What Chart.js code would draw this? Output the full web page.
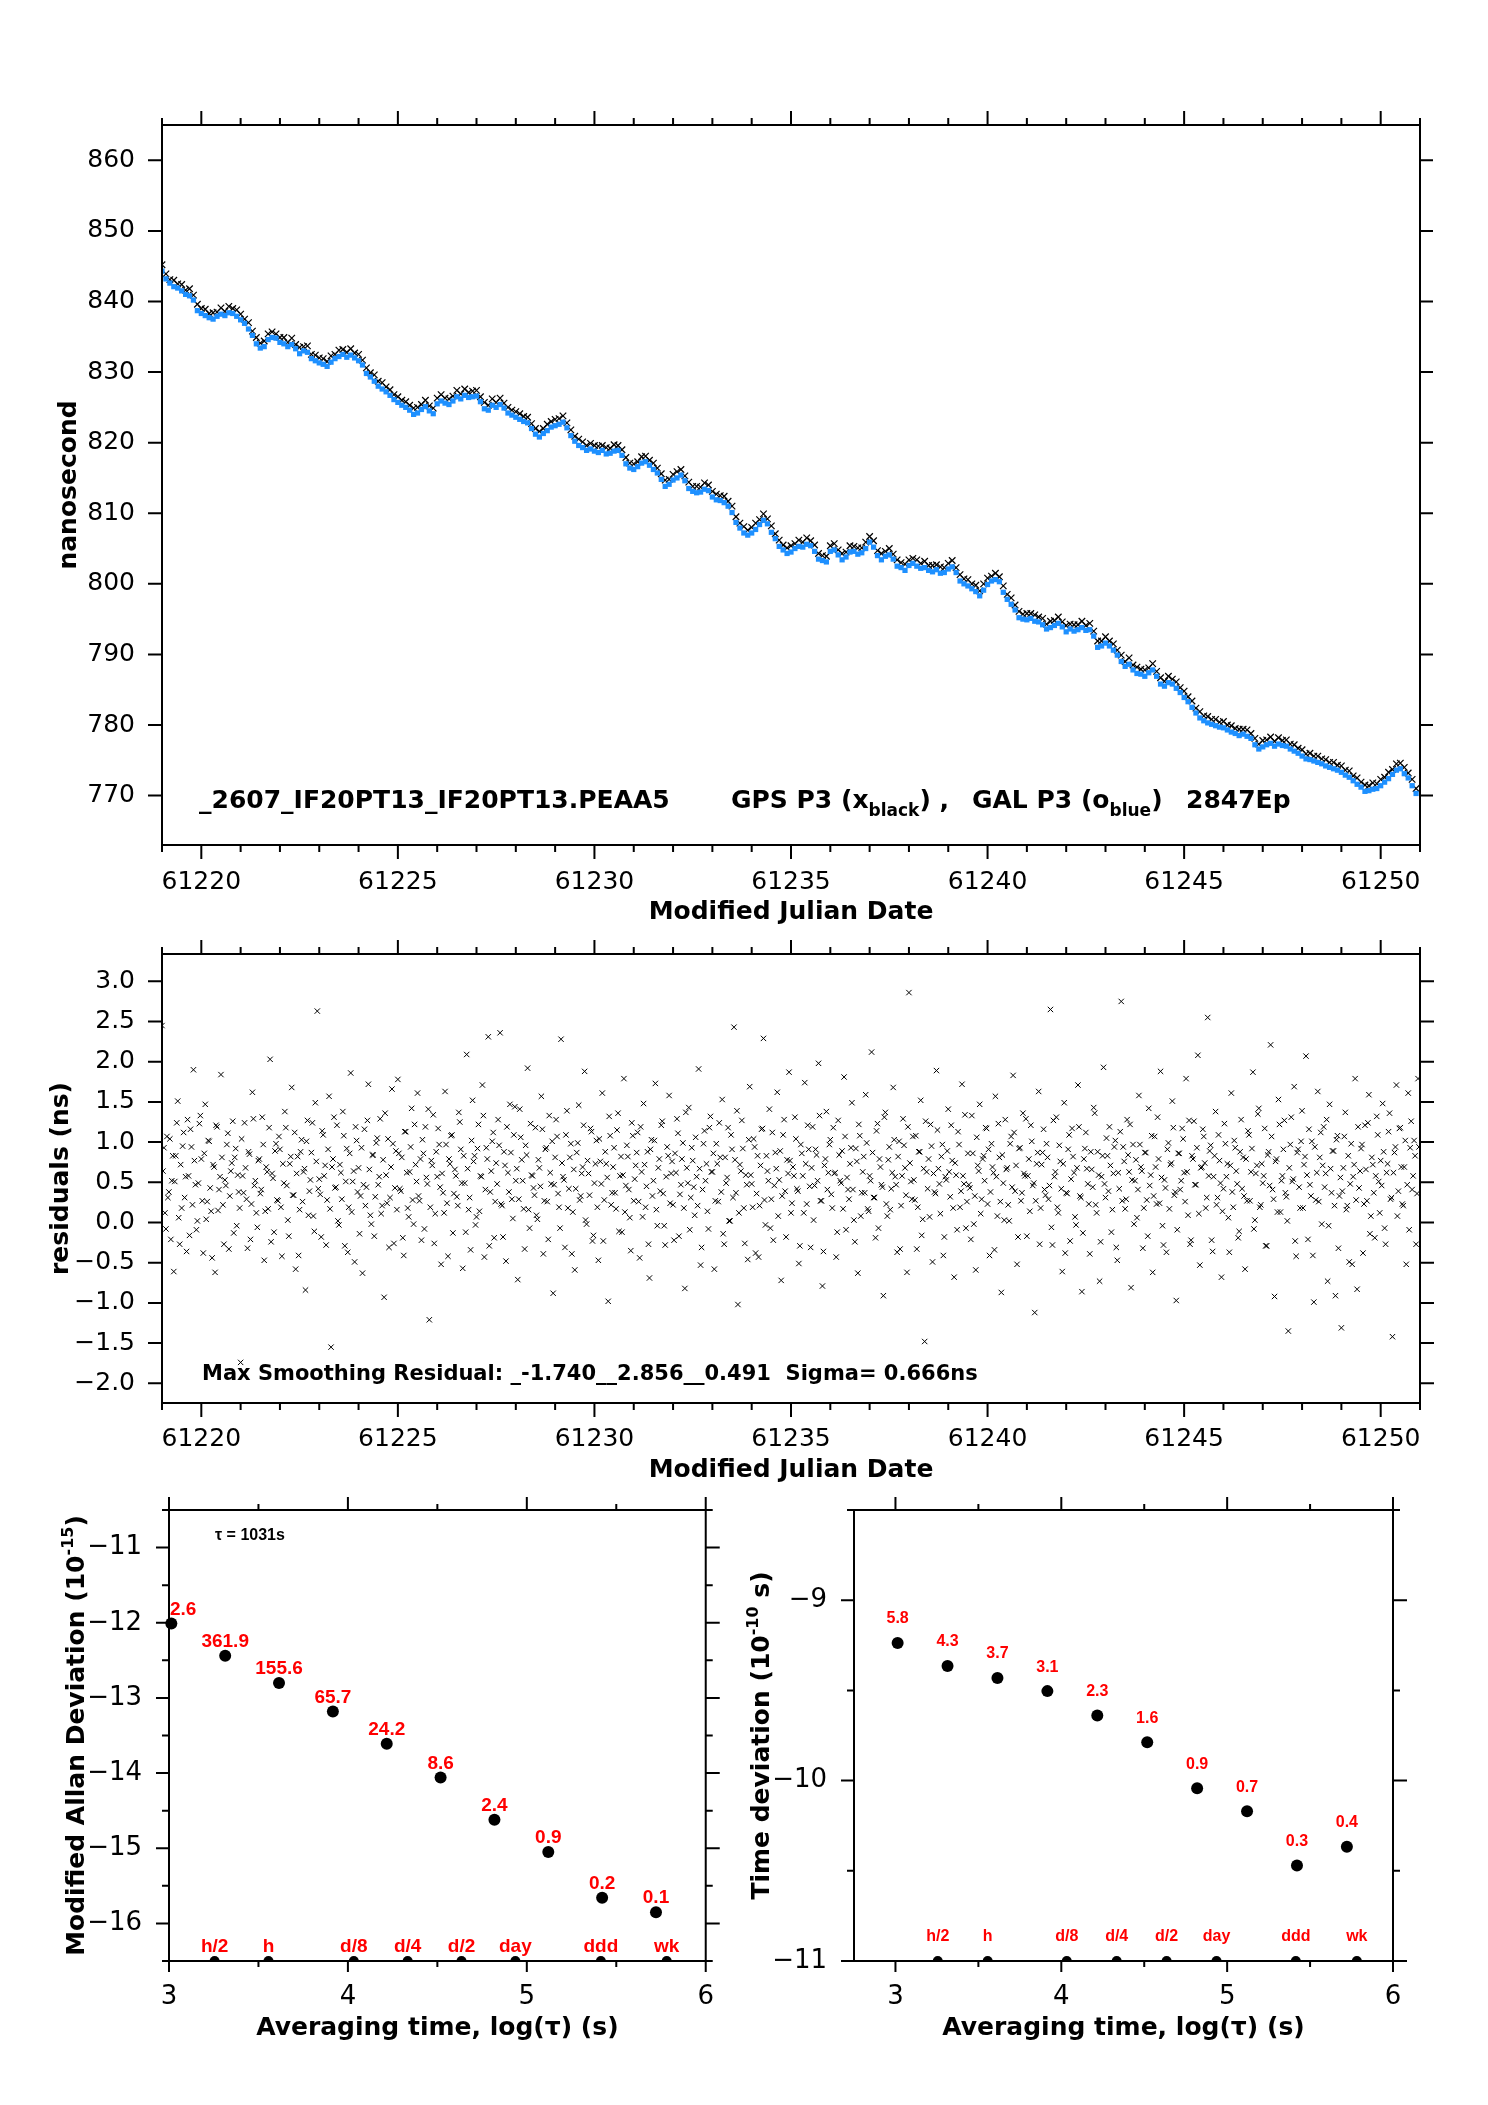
<!DOCTYPE html>
<html>
<head>
<meta charset="utf-8">
<script src="https://cdn.jsdelivr.net/npm/chart.js@4.4.1/dist/chart.umd.min.js"></script>
<style>
    html, body { margin: 0; padding: 0; background: #fff; }
    body { width: 1488px; height: 2105px; position: relative; overflow: hidden; }
    .panel { position: absolute; }
    .panel canvas { display: block; }
</style>
</head>
<body>
<div class="panel" style="left:0;top:0"><canvas id="phase-chart" width="1488" height="945"></canvas></div>
<div class="panel" style="left:0;top:900px"><canvas id="residual-chart" width="1488" height="603"></canvas></div>
<div class="panel" style="left:0;top:1450px"><canvas id="mdev-chart" width="735" height="611"></canvas></div>
<div class="panel" style="left:735px;top:1450px"><canvas id="tdev-chart" width="753" height="611"></canvas></div>
<script>
// epochs are evenly spaced, first one at the left edge of the plot
const EPOCH_START = 61219.0;
const PHASE_STEP = 0.1;
const RESID_STEP = 0.05;

// GAL P3 (blue), nanoseconds
const galPhase = [
    844.3, 843.2, 842.6, 842.1, 841.9, 841.5, 841.0, 840.8, 840.2, 838.7,
    838.3, 838.0, 837.7, 837.5, 837.9, 838.2, 838.0, 838.4, 838.3, 837.9,
    837.4, 836.9, 836.1, 835.2, 834.0, 833.4, 833.6, 834.6, 834.9, 834.8,
    834.2, 834.0, 833.6, 833.9, 833.3, 832.6, 833.0, 832.8, 831.9, 831.6,
    831.3, 831.1, 830.8, 831.4, 831.9, 832.2, 832.5, 832.1, 832.4, 832.0,
    831.6, 831.0, 829.8, 829.3, 828.7, 828.0, 827.6, 827.2, 826.7, 826.1,
    825.7, 825.3, 825.0, 824.6, 824.0, 824.2, 824.7, 825.1, 824.5, 824.1,
    825.5, 825.9, 825.6, 825.4, 825.9, 826.5, 826.2, 826.7, 826.4, 826.5,
    826.6, 825.8, 824.8, 824.6, 825.3, 825.0, 825.4, 824.9, 824.2, 823.9,
    823.6, 823.3, 823.0, 822.8, 822.0, 821.2, 820.8, 821.3, 821.7, 822.2,
    822.4, 822.6, 822.9, 822.1, 821.0, 820.2, 819.6, 819.3, 818.9, 819.1,
    818.8, 818.6, 818.9, 818.4, 818.5, 818.8, 818.9, 818.2, 817.0, 816.4,
    816.2, 816.6, 817.1, 817.3, 816.8, 816.2, 815.7, 814.8, 813.8, 814.1,
    814.7, 815.0, 815.4, 814.6, 813.5, 813.1, 812.9, 813.0, 813.4, 813.2,
    812.3, 811.9, 811.8, 811.5, 811.0, 810.1, 808.7, 807.9, 807.2, 806.9,
    807.2, 807.7, 808.4, 809.0, 808.5, 807.3, 806.4, 805.3, 804.8, 804.3,
    804.5, 805.0, 805.3, 805.2, 805.6, 805.4, 804.6, 803.5, 803.3, 803.1,
    804.6, 804.8, 804.1, 803.4, 803.8, 804.5, 804.6, 804.2, 804.4, 805.0,
    805.9, 805.2, 804.0, 803.4, 803.9, 804.1, 803.5, 802.5, 802.3, 801.9,
    802.6, 802.9, 802.5, 802.2, 802.3, 801.9, 801.7, 802.0, 801.5, 801.6,
    802.1, 802.4, 801.6, 800.4, 800.0, 799.7, 799.3, 798.9, 798.3, 799.1,
    799.9, 800.4, 800.6, 800.3, 798.8, 797.8, 797.1, 796.3, 795.2, 795.0,
    794.9, 795.1, 794.7, 794.6, 794.2, 793.6, 793.8, 794.1, 794.4, 793.9,
    793.2, 793.6, 793.3, 793.5, 793.8, 793.4, 793.5, 792.6, 791.0, 791.2,
    791.6, 791.2, 790.6, 789.9, 789.0, 788.3, 788.6, 787.8, 787.3, 787.2,
    786.9, 787.4, 787.8, 786.9, 785.8, 785.5, 786.0, 785.8, 785.2, 784.6,
    783.9, 783.3, 782.5, 781.7, 781.0, 780.6, 780.3, 780.1, 779.9, 779.7,
    779.6, 779.3, 779.0, 778.8, 778.5, 778.7, 778.4, 778.1, 777.2, 776.6,
    776.9, 777.2, 777.4, 777.0, 777.3, 777.1, 777.0, 776.6, 776.3, 776.0,
    775.6, 775.2, 775.1, 774.9, 774.7, 774.5, 774.2, 774.0, 773.8, 773.6,
    773.3, 772.9, 772.6, 772.1, 771.6, 771.2, 770.6, 770.7, 770.9, 771.0,
    771.4, 771.9, 772.4, 773.0, 773.6, 773.8, 773.1, 772.5, 771.4, 770.3
];

// GPS P3 (black crosses), nanoseconds
const gpsPhase = [
    845.2, 843.9, 843.1, 843.0, 842.5, 842.4, 841.6, 841.8, 840.9, 839.6,
    839.0, 838.9, 838.3, 838.4, 838.5, 839.1, 838.6, 839.3, 839.0, 838.8,
    838.2, 837.5, 837.0, 835.8, 834.9, 834.1, 834.4, 835.4, 835.7, 835.4,
    834.9, 834.9, 834.2, 834.8, 833.9, 833.5, 833.6, 833.7, 832.5, 832.4,
    832.0, 831.9, 831.5, 832.3, 832.5, 833.1, 833.2, 832.8, 833.3, 832.7,
    832.5, 831.7, 830.6, 829.9, 829.6, 828.7, 828.5, 827.9, 827.5, 826.8,
    826.5, 826.0, 825.8, 825.3, 824.9, 825.0, 825.4, 826.0, 825.2, 824.9,
    826.3, 826.8, 826.3, 826.2, 826.6, 827.4, 826.9, 827.6, 827.1, 827.3,
    827.4, 826.5, 825.7, 825.3, 826.2, 825.7, 826.3, 825.6, 825.0, 824.6,
    824.4, 824.1, 823.7, 823.6, 822.7, 822.0, 821.6, 822.0, 822.6, 823.0,
    823.3, 823.4, 823.8, 822.8, 821.8, 820.9, 820.5, 820.1, 819.6, 819.9,
    819.6, 819.5, 819.6, 819.3, 819.2, 819.7, 819.6, 819.0, 817.9, 817.1,
    817.0, 817.3, 818.0, 818.1, 817.5, 817.1, 816.4, 815.6, 814.7, 814.8,
    815.5, 815.9, 816.2, 815.3, 814.4, 813.8, 813.8, 813.7, 814.3, 814.0,
    813.1, 812.7, 812.5, 812.4, 811.7, 811.0, 809.5, 808.6, 808.1, 807.6,
    808.0, 808.6, 809.1, 809.9, 809.2, 808.2, 807.1, 806.2, 805.5, 805.1,
    805.4, 805.7, 806.2, 805.9, 806.5, 806.1, 805.5, 804.3, 804.0, 803.9,
    805.4, 805.7, 804.8, 804.3, 804.5, 805.4, 805.3, 805.1, 805.1, 805.9,
    806.7, 806.1, 804.7, 804.3, 804.6, 805.0, 804.2, 803.4, 803.0, 802.8,
    803.4, 803.6, 803.4, 802.9, 803.2, 802.6, 802.6, 802.7, 802.4, 802.3,
    802.9, 803.3, 802.3, 801.3, 800.7, 800.6, 800.0, 799.8, 799.0, 800.0,
    800.8, 801.1, 801.5, 801.0, 799.7, 798.5, 798.0, 797.0, 796.1, 795.7,
    795.8, 795.8, 795.6, 795.3, 795.1, 794.3, 794.7, 794.8, 795.3, 794.6,
    794.1, 794.3, 794.2, 794.2, 794.7, 794.1, 794.4, 793.3, 791.9, 791.9,
    792.5, 791.9, 791.5, 790.6, 789.9, 789.0, 789.5, 788.5, 788.2, 787.9,
    787.8, 788.1, 788.7, 787.6, 786.7, 786.2, 786.9, 786.5, 786.1, 785.3,
    784.8, 784.0, 783.4, 782.4, 781.9, 781.3, 781.2, 780.8, 780.8, 780.4,
    780.5, 780.0, 779.9, 779.5, 779.4, 779.4, 779.3, 778.8, 778.1, 777.3,
    777.8, 777.9, 778.3, 777.7, 778.2, 777.8, 777.9, 777.3, 777.2, 776.7,
    776.5, 775.9, 776.0, 775.6, 775.6, 775.2, 775.1, 774.7, 774.7, 774.3,
    774.2, 773.6, 773.5, 772.8, 772.5, 771.9, 771.5, 771.4, 771.8, 771.7,
    772.3, 772.6, 773.3, 773.7, 774.5, 774.6, 774.0, 773.2, 772.3, 771.0
];

// smoothing residuals, ns, on the whole-step epochs
const residuals = [
    2.45, 0.93, -0.08, 0.31, 1.04, 0.52, -0.61, 0.83, 1.51, -0.27,
    0.18, 1.12, 0.57, 1.28, -0.16, 0.94, 1.90, 0.47, 0.02, 1.23,
    0.79, -0.38, 1.47, 0.26, 1.01, 0.14, 0.72, -0.62, 1.19, 0.41,
    1.84, 0.22, 0.53, 0.97, -0.33, 0.64, 1.26, 0.81, -0.04, 0.38,
    -1.74, 0.58, 1.24, 0.29, 0.88, -0.21, 1.62, 0.46, 0.12, 0.77,
    0.36, 1.31, -0.47, 0.69, 0.17, 2.03, 0.61, -0.12, 0.98, 0.27,
    0.91, -0.42, 0.49, 1.18, 0.03, 0.73, 1.68, 0.34, -0.58, 0.82,
    0.16, 1.03, 0.63, -0.84, 1.27, 0.39, 0.87, 0.08, 1.49, 2.63,
    0.54, -0.18, 1.09, 0.71, 0.28, 1.57, -1.55, 0.79, 0.43, 1.21,
    -0.03, 0.62, 1.38, -0.29, 0.92, 0.19, 1.86, 0.51, -0.49, 1.02,
    0.68, 0.33, -0.63, 1.16, 0.44, 1.72, 0.09, 0.84, -0.17, 0.99,
    0.47, 1.29, 0.21, -0.93, 0.59, 1.04, 0.31, 1.66, -0.26, 0.89,
    1.78, 0.42, 0.81, -0.41, 1.13, 0.18, 0.63, 1.42, -0.02, 0.72,
    1.61, 0.27, -0.22, 0.86, 1.19, 0.48, -1.21, 0.77, 1.34, 0.11,
    0.57, 0.97, -0.52, 0.37, 1.63, 0.24, 0.79, 1.08, -0.13, 0.66,
    0.32, 1.37, 0.91, -0.57, 0.49, 2.09, 0.16, -0.34, 1.52, 0.83,
    0.07, 1.22, 0.58, 1.71, -0.43, 0.93, 2.31, 0.38, 1.01, -0.19,
    0.74, 1.28, 2.36, 0.21, 0.88, -0.48, 0.62, 1.47, 0.29, 1.09,
    0.52, -0.71, 1.41, 0.78, 0.17, 0.96, 1.92, -0.07, 0.59, 0.43,
    1.18, 0.04, 0.68, 1.57, -0.39, 0.91, 0.26, 1.33, 0.48, -0.88,
    0.81, 1.07, 0.19, 2.28, 0.57, -0.31, 1.39, 0.42, 0.98, 0.13,
    -0.59, 0.87, 1.46, 0.33, 0.69, 1.88, -0.02, 0.61, 1.17, -0.23,
    0.49, 1.02, -0.47, 0.76, 1.61, 0.28, 0.73, -0.98, 1.08, 0.37,
    0.93, 0.17, 1.36, 0.58, -0.12, 1.79, 0.46, 0.82, 0.06, 1.24,
    0.27, 0.71, 1.12, -0.44, 0.63, 1.48, 0.19, 0.88, -0.69, 1.03,
    0.52, 1.73, -0.04, 0.79, 1.21, 0.36, -0.28, 0.94, 1.58, 0.61,
    0.22, 0.86, 1.29, -0.17, 0.47, 0.99, -0.82, 0.68, 1.43, 0.31,
    0.77, 0.09, 0.57, 1.91, -0.53, 0.41, 1.14, 0.73, -0.08, 1.32,
    0.63, -0.58, 0.98, 0.26, 0.81, 1.53, -0.27, 0.49, 1.18, 0.02,
    0.91, 2.43, 0.37, -1.02, 0.72, 1.27, 0.18, 0.59, -0.46, 1.69,
    0.48, 1.04, -0.38, 0.83, 0.21, 1.16, 2.29, -0.03, 0.64, 1.41,
    0.29, -0.22, 0.87, 1.62, 0.53, -0.72, 1.09, 0.39, 0.78, 1.87,
    0.12, 0.69, 1.31, 0.42, -0.51, 0.97, 0.58, 1.74, 0.23, 0.91,
    -0.31, 1.19, 0.46, 0.84, 1.98, 0.27, -0.79, 0.71, 1.38, 0.62,
    1.03, 0.18, 0.61, -0.43, 1.27, 0.52, 0.89, 1.81, -0.09, 0.41,
    0.73, 1.49, 0.03, 0.92, -0.63, 1.08, 0.37, 0.82, 1.59, 0.17,
    0.58, 2.12, 0.31, -0.19, 1.23, 0.79, 0.47, -0.91, 1.37, 0.08,
    0.94, 0.42, 1.68, 0.57, -0.37, 1.01, 0.21, 1.29, 0.68, -0.62,
    2.86, 0.51, 1.07, 0.28, -0.33, 0.88, 1.52, 0.04, -1.48, 0.63,
    0.79, 1.22, -0.49, 0.38, 1.89, 0.67, 0.11, 0.97, -0.18, 0.53,
    1.41, 0.32, 0.77, -0.68, 0.59, 1.13, 0.19, 1.72, 0.48, -0.07,
    0.86, 0.43, 1.33, -0.02, -0.59, 0.71, 1.47, 0.29, 0.83, 1.18,
    0.23, -0.41, 0.98, 0.62, 1.57, 0.08, 0.81, -0.87, 0.49, 1.28,
    0.68, 0.02, 1.07, 1.83, 0.39, -0.52, 0.92, 0.27, 1.36, 0.58,
    -0.17, 0.79, 1.21, 0.46, -1.12, 0.73, 1.63, 0.18, 0.87, 0.41,
    0.98, 0.29, 2.65, -0.28, 0.57, 1.31, 0.12, 0.76, -0.61, 1.49,
    0.37, 0.91, -0.23, 1.17, 0.62, -0.03, 1.71, 0.33, -0.86, 0.79,
    1.12, 0.48, -0.39, 0.66, 1.43, 0.22, 0.88, -0.73, 0.57, 1.93,
    0.31, 0.83, 1.19, -0.12, 0.61, 1.02, -0.47, 0.42, 2.75, 0.94,
    0.17, 1.28, 0.63, -0.81, 0.97, 0.52, 0.06, 1.58, 0.69, -0.32,
    0.87, 0.28, 1.42, 0.59, -0.62, 1.07, 0.23, 0.79, 1.88, -0.04,
    0.53, -0.37, 0.99, 0.72, 1.51, 0.34, -0.97, 0.86, 0.41, 1.17,
    0.62, 1.79, 0.09, -0.27, 0.83, 1.26, 0.47, 2.08, -0.53, 0.69,
    1.07, 0.18, 2.55, 0.89, -0.22, 0.57, 1.38, 0.31, 0.77, -0.68,
    0.42, 0.98, 0.73, -0.37, 1.61, 0.19, 0.93, 0.48, -0.11, 1.28,
    0.81, -0.58, 0.27, 1.09, 0.63, 1.87, 0.03, 0.71, 1.42, 0.22,
    0.49, 1.17, -0.29, 0.88, 2.21, 0.41, -0.92, 0.79, 1.53, 0.13,
    0.58, 1.27, 0.32, -1.35, 0.97, 0.51, 1.69, -0.42, 0.91, 0.18,
    1.39, 0.72, 2.07, -0.21, 0.47, 1.01, -0.99, 0.28, 1.63, 0.81,
    -0.02, 1.19, 0.61, -0.73, 1.47, 0.37, 0.89, -0.91, 1.08, 0.33,
    -1.31, 0.68, 1.37, 0.21, -0.49, 0.98, 0.57, 1.79, -0.83, 0.43,
    0.92, -0.38, 1.21, 0.27, 1.59, 0.08, 0.72, -0.19, 1.32, 0.51,
    0.77, 1.48, -0.07, 0.62, 1.13, 0.29, -1.42, 0.87, 1.71, 0.39,
    1.18, 0.23, 0.69, -0.52, 1.61, 0.93, 0.41, 1.02, -0.27, 1.79
];

// residuals on the half-step epochs in between
const residualsMid = [
    0.64, 0.12, 1.07, 0.38, -0.21, 0.83, 0.51, 1.24, 0.06, 0.72,
    0.95, 0.31, -0.36, 0.58, 1.16, 0.22, 0.77, -0.09, 0.49, 1.33,
    0.27, 0.86, 0.04, 1.02, 0.43, -0.44, 0.69, 1.21, 0.15, 0.57,
    0.81, -0.27, 0.46, 1.11, 0.33, 0.74, -0.13, 0.92, 0.59, 0.18,
    1.04, 0.37, 0.68, -0.32, 0.85, 0.23, 1.29, 0.52, -0.06, 0.79,
    0.41, 0.97, 0.14, 0.63, 1.18, -0.24, 0.55, 0.89, 0.28, 1.07,
    0.19, 0.73, 1.38, 0.46, -0.17, 0.82, 0.34, 1.12, 0.61, -0.41,
    0.88, 0.26, 0.67, 1.01, 0.09, 0.53, 1.24, -0.11, 0.76, 0.42,
    0.35, 1.14, 0.58, -0.28, 0.91, 0.17, 0.69, 1.31, 0.44, 0.02,
    0.72, 0.29, 1.08, 0.51, -0.37, 0.86, 0.13, 0.64, 1.19, 0.38,
    -0.14, 0.93, 0.47, 0.21, 1.27, 0.66, -0.02, 0.84, 0.32, 1.05,
    0.57, 0.11, 0.78, 1.36, 0.24, -0.31, 0.69, 0.98, 0.43, 0.16,
    0.86, 0.39, -0.19, 1.13, 0.62, 0.07, 0.94, 0.28, 1.22, 0.51,
    0.33, 0.79, 1.03, -0.08, 0.56, 1.41, 0.19, 0.71, -0.26, 0.88,
    1.17, 0.44, 0.61, 0.12, 0.97, -0.42, 0.73, 1.09, 0.36, 0.58,
    0.21, 1.25, 0.49, 0.83, -0.12, 0.67, 0.31, 1.02, 0.76, -0.03,
    0.92, 0.14, 0.57, 1.33, 0.41, 0.79, -0.29, 0.64, 1.12, 0.26,
    0.48, 0.96, 0.23, -0.18, 0.71, 1.19, 0.38, 0.87, 0.05, 1.44,
    0.67, 0.29, 1.06, 0.52, -0.33, 0.84, 0.16, 1.23, 0.58, 0.34,
    0.09, 0.78, 0.45, 1.16, 0.27, 0.93, -0.21, 0.62, 1.01, 0.47,
    1.28, 0.36, -0.07, 0.74, 0.53, 1.09, 0.18, 0.81, -0.39, 0.66,
    0.42, 0.99, 0.28, 0.61, 1.21, 0.03, 0.77, 0.34, 1.13, -0.16,
    0.73, 0.19, 1.04, 0.48, -0.23, 0.88, 0.56, 1.32, 0.22, 0.69,
    0.37, 1.15, -0.11, 0.82, 0.59, 0.13, 0.96, 0.41, -0.35, 1.08,
    0.54, 0.87, 0.26, 1.19, 0.07, 0.72, 0.45, -0.27, 0.91, 0.33,
    1.02, 0.16, 0.68, 0.39, 1.26, -0.04, 0.57, 0.83, 0.24, 0.76,
    -0.22, 0.62, 1.11, 0.35, 0.79, 0.18, 1.37, 0.49, -0.09, 0.93,
    0.44, 1.06, 0.21, 0.67, -0.31, 0.98, 0.52, 0.14, 1.18, 0.63,
    0.86, 0.27, 0.73, 1.24, 0.38, -0.14, 0.81, 0.56, 0.02, 1.09,
    0.31, 0.78, 1.39, 0.12, 0.64, 0.92, -0.26, 0.47, 1.03, 0.59,
    0.19, 0.94, 0.36, -0.43, 0.71, 1.17, 0.28, 0.83, 0.52, -0.07,
    1.12, 0.46, 0.67, 0.08, 0.89, 0.33, 1.28, -0.18, 0.61, 0.77,
    0.24, 0.58, 1.04, 0.39, -0.29, 0.86, 0.12, 0.73, 1.21, 0.45,
    0.68, 0.03, 0.91, 0.52, 1.33, 0.27, -0.36, 0.79, 0.41, 0.97,
    0.35, 1.18, 0.62, -0.12, 0.84, 0.49, 0.17, 1.07, 0.56, 0.29,
    0.93, 0.41, -0.24, 0.76, 1.22, 0.08, 0.63, 0.37, 0.99, 0.14,
    0.52, 0.87, 0.31, 1.14, -0.07, 0.69, 0.44, 1.31, 0.23, 0.78,
    0.16, 0.62, 1.03, 0.47, 0.82, -0.33, 0.58, 0.96, 0.34, 1.19,
    0.74, 0.29, 0.53, 1.08, 0.19, 0.88, -0.16, 0.67, 1.26, 0.42,
    0.07, 0.95, 0.61, 0.36, 1.15, 0.48, 0.82, -0.41, 0.57, 0.89,
    0.63, 1.21, 0.18, 0.74, -0.09, 0.97, 0.39, 0.58, 1.34, 0.26,
    0.47, -0.21, 0.86, 0.33, 1.06, 0.64, 0.11, 0.79, 0.52, 1.17,
    0.91, 0.38, 0.69, -0.34, 0.57, 1.23, 0.26, 0.84, 0.03, 0.66,
    0.22, 0.98, 0.44, 1.12, 0.71, -0.18, 0.93, 0.37, 0.61, 1.29,
    0.58, 0.14, 1.01, 0.49, 0.27, 0.87, -0.27, 0.72, 1.16, 0.34,
    0.81, 0.46, -0.06, 1.27, 0.63, 0.19, 0.96, 0.42, 0.73, -0.38,
    0.36, 1.09, 0.54, 0.82, 0.07, 0.68, 1.19, 0.31, -0.13, 0.92,
    0.67, 0.23, 0.88, 0.44, 1.36, 0.12, 0.59, -0.24, 0.83, 0.48,
    1.05, 0.39, 0.71, 0.16, 0.94, -0.31, 0.62, 1.13, 0.27, 0.76,
    0.29, 0.84, 1.22, 0.53, -0.02, 0.78, 0.41, 0.97, 0.64, 0.18,
    0.87, -0.17, 0.46, 1.08, 0.33, 0.69, 1.31, 0.24, 0.56, -0.28,
    0.43, 0.91, 0.17, 0.74, 1.18, 0.38, -0.09, 0.86, 0.52, 1.04,
    0.26, 0.63, 1.27, -0.22, 0.79, 0.47, 0.93, 0.11, 0.68, 1.16,
    0.74, 0.31, 0.58, 0.96, -0.36, 0.83, 0.22, 1.09, 0.49, 0.14,
    1.23, 0.57, 0.06, 0.71, 0.38, 1.02, 0.64, -0.19, 0.88, 0.42,
    0.33, 0.79, 1.14, 0.27, 0.92, -0.08, 0.61, 1.35, 0.19, 0.73,
    0.58, -0.29, 0.84, 0.46, 1.07, 0.29, 0.76, 0.13, 1.22, 0.52,
    0.91, 0.37, 0.02, 0.68, 1.31, 0.54, -0.23, 0.87, 0.44, 1.01,
    0.18, 0.82, 0.59, 1.16, 0.33, -0.41, 0.94, 0.62, 0.26, 1.12,
    0.71, 0.44, 1.28, -0.04, 0.67, 0.89, 0.21, 1.03, -0.32, 0.56,
    0.39, 1.07, 0.16, 0.83, 0.48, -0.52, 0.72, 0.28, 1.19, 0.64,
    0.97, 0.23, 0.66, 1.24, -0.14, 0.81, 0.37, 0.58, 1.09, 0.12,
    0.46, 0.88, -0.27, 0.73, 1.36, 0.31, 0.62, 0.94, 0.08, 1.17,
    0.69, 0.21, 1.02, 0.47, -0.09, 1.26, 0.58, 0.83, 0.36, 0.94
];

const mjdTicks = [61220, 61225, 61230, 61235, 61240, 61245, 61250];
const mjdLabels = ['61220', '61225', '61230', '61235', '61240', '61245', '61250'];
const phaseTicks = [860, 850, 840, 830, 820, 810, 800, 790, 780, 770];
const phaseLabels = ['860', '850', '840', '830', '820', '810', '800', '790', '780', '770'];
const residTicks = [3, 2.5, 2, 1.5, 1, 0.5, 0, -0.5, -1, -1.5, -2];
const residLabels = ['3.0', '2.5', '2.0', '1.5', '1.0', '0.5', '0.0', '\u22120.5', '\u22121.0', '\u22121.5', '\u22122.0'];

// stability plots, x = log10(tau)
const logTau = [3.013, 3.314, 3.615, 3.916, 4.217, 4.518, 4.819, 5.120, 5.421, 5.722];
const modAdev = [-12.01, -12.44, -12.80, -13.18, -13.61, -14.06, -14.62, -15.05, -15.66, -15.85];
const modAdevNotes = ['2.6', '361.9', '155.6', '65.7', '24.2', '8.6', '2.4', '0.9', '0.2', '0.1'];
const timeDev = [-9.237, -9.365, -9.431, -9.504, -9.639, -9.788, -10.042, -10.170, -10.471, -10.367];
const timeDevNotes = ['5.8', '4.3', '3.7', '3.1', '2.3', '1.6', '0.9', '0.7', '0.3', '0.4'];
const spanLogTau = [3.255, 3.556, 4.033, 4.334, 4.635, 4.936, 5.414, 5.782];
const spanNames = ['h/2', 'h', 'd/8', 'd/4', 'd/2', 'day', 'ddd', 'wk'];
const tauTicks = [3, 4, 5, 6];
const tauLabels = ['3', '4', '5', '6'];
const mdevTicks = [-11, -12, -13, -14, -15, -16];
const mdevLabels = ['\u221211', '\u221212', '\u221213', '\u221214', '\u221215', '\u221216'];
const tdevTicks = [-9, -10, -11];
const tdevLabels = ['\u22129', '\u221210', '\u221211'];

const FONT = "'DejaVu Sans', sans-serif";
const BOLD = (px) => `bold ${px}px ${FONT}`;
const NOTE_FONT = (px) => `bold ${px}px 'Liberation Sans', Arial, sans-serif`;

Chart.defaults.font.family = FONT;
Chart.defaults.color = '#000';

function drawRich(ctx, item, area) {
    const [x, y] = item.at(area);
    ctx.save();
    ctx.translate(x, y);
    if (item.rotate) ctx.rotate(-Math.PI / 2);
    ctx.fillStyle = '#000';
    ctx.textBaseline = 'alphabetic';
    ctx.textAlign = 'left';
    let total = 0;
    item.segs.forEach(s => {
        ctx.font = s.font;
        s.w = ctx.measureText(s.text).width;
        total += s.w;
    });
    let cx = item.align === 'center' ? -total / 2 : 0;
    item.segs.forEach(s => {
        ctx.font = s.font;
        ctx.fillText(s.text, cx, s.dy || 0);
        cx += s.w;
    });
    ctx.restore();
}

// box, outward ticks on all four sides, free text
const framePlugin = {
    id: 'frame',
    afterDatasetsDraw(chart, args, opts) {
        const { ctx, chartArea: a, scales } = chart;
        ctx.save();
        ctx.strokeStyle = '#000';
        ctx.lineWidth = 2;
        ctx.beginPath();
        (opts.xTicks || []).forEach(set => set.values.forEach(v => {
            const px = scales.x.getPixelForValue(v);
            ctx.moveTo(px, a.top);
            ctx.lineTo(px, a.top - set.top);
            ctx.moveTo(px, a.bottom);
            ctx.lineTo(px, a.bottom + set.bottom);
        }));
        (opts.yTicks || []).forEach(set => set.values.forEach(v => {
            const py = scales.y.getPixelForValue(v);
            ctx.moveTo(a.left, py);
            ctx.lineTo(a.left - set.left, py);
            ctx.moveTo(a.right, py);
            ctx.lineTo(a.right + set.right, py);
        }));
        ctx.stroke();
        ctx.strokeRect(a.left, a.top, a.right - a.left, a.bottom - a.top);
        ctx.restore();
        (opts.texts || []).forEach(t => drawRich(ctx, t, a));
    }
};

// red numbers above points
const notesPlugin = {
    id: 'notes',
    afterDatasetsDraw(chart) {
        const { ctx, chartArea: a } = chart;
        chart.data.datasets.forEach((ds, i) => {
            if (!ds.notes) return;
            const meta = chart.getDatasetMeta(i);
            ctx.save();
            ctx.font = ds.noteFont;
            ctx.fillStyle = '#ff0000';
            ctx.textAlign = 'center';
            ctx.textBaseline = 'middle';
            meta.data.forEach((pt, j) => {
                const w = ctx.measureText(ds.notes[j]).width;
                const x = Math.max(pt.x, a.left + w / 2 + 1);
                ctx.fillText(ds.notes[j], x, pt.y - ds.noteLift);
            });
            ctx.restore();
        });
    }
};

function axis(cfg) {
    return {
        type: 'linear',
        min: cfg.min,
        max: cfg.max,
        grid: { display: false, drawTicks: false },
        border: { display: false },
        ticks: {
            autoSkip: false,
            maxRotation: 0,
            color: '#000',
            font: { size: cfg.fontSize, family: FONT },
            padding: cfg.padding,
            callback: (v, i) => cfg.labels[i]
        },
        afterBuildTicks: (s) => { s.ticks = cfg.values.map(v => ({ value: v })); },
        afterFit: (s) => {
            if (cfg.width) s.width = cfg.width;
            if (cfg.height) s.height = cfg.height;
        },
        title: cfg.title ? {
            display: true,
            text: cfg.title,
            color: '#000',
            font: { size: 25, weight: 'bold', family: FONT },
            padding: cfg.titlePadding
        } : { display: false }
    };
}

function baseOptions(padding, frame, scales) {
    return {
        responsive: false,
        animation: false,
        events: [],
        layout: { padding },
        plugins: {
            legend: { display: false },
            tooltip: { enabled: false },
            frame
        },
        scales
    };
}

const dayTicks = [];
for (let d = 61219; d <= 61251; d++) dayTicks.push(d);

const mjdFrameTicks = [
    { values: dayTicks, top: 7, bottom: 7 },
    { values: mjdTicks, top: 14, bottom: 14 }
];

function buildPhaseChart() {
    const galPoints = galPhase.map((v, i) => ({ x: EPOCH_START + i * PHASE_STEP, y: v }));
    const gpsPoints = gpsPhase.map((v, i) => ({ x: EPOCH_START + i * PHASE_STEP, y: v }));
    const legendY = (a) => a.bottom - 37;
    return new Chart(document.getElementById('phase-chart'), {
        type: 'scatter',
        data: {
            datasets: [{
                label: 'GAL P3',
                data: galPoints,
                pointStyle: 'rect',
                pointRadius: 3.7,
                backgroundColor: '#1e90ff',
                borderWidth: 0
            }, {
                label: 'GPS P3',
                data: gpsPoints,
                pointStyle: 'crossRot',
                pointRadius: 4.6,
                borderColor: '#000',
                borderWidth: 1.2
            }]
        },
        options: baseOptions({ top: 125, right: 68, left: 0, bottom: 0 }, {
            xTicks: mjdFrameTicks,
            yTicks: [{ values: phaseTicks, left: 14, right: 13 }],
            texts: [
                { at: a => [a.left + 37, legendY(a)], segs: [{ text: '_2607_IF20PT13_IF20PT13.PEAA5', font: BOLD(25) }] },
                { at: a => [a.left + 569, legendY(a)], segs: [
                    { text: 'GPS P3 (x', font: BOLD(25) },
                    { text: 'black', font: BOLD(17), dy: 8 },
                    { text: ') ,', font: BOLD(25) }
                ] },
                { at: a => [a.left + 810, legendY(a)], segs: [
                    { text: 'GAL P3 (o', font: BOLD(25) },
                    { text: 'blue', font: BOLD(17), dy: 8 },
                    { text: ')', font: BOLD(25) }
                ] },
                { at: a => [a.left + 1024, legendY(a)], segs: [{ text: '2847Ep', font: BOLD(25) }] }
            ]
        }, {
            x: axis({ min: 61219, max: 61251, values: mjdTicks, labels: mjdLabels, fontSize: 25, padding: 22,
                      height: 100, title: 'Modified Julian Date', titlePadding: { top: 0, bottom: 18 } }),
            y: axis({ min: 763, max: 865, values: phaseTicks, labels: phaseLabels, fontSize: 25, padding: 27,
                      width: 162, title: 'nanosecond', titlePadding: { top: 54, bottom: 0 } })
        }),
        plugins: [framePlugin]
    });
}

function buildResidualChart() {
    const points = residuals.map((v, i) => ({ x: EPOCH_START + i * RESID_STEP, y: v }));
    const midPoints = residualsMid.map((v, i) => ({ x: EPOCH_START + (i + 0.5) * RESID_STEP, y: v }));
    const crossStyle = { pointStyle: 'crossRot', pointRadius: 3.8, borderColor: '#000', borderWidth: 1 };
    return new Chart(document.getElementById('residual-chart'), {
        type: 'scatter',
        data: {
            datasets: [
                Object.assign({ label: 'residuals', data: points }, crossStyle),
                Object.assign({ label: 'residuals (mid)', data: midPoints }, crossStyle)
            ]
        },
        options: baseOptions({ top: 54, right: 68, left: 0, bottom: 0 }, {
            xTicks: mjdFrameTicks,
            yTicks: [{ values: residTicks, left: 14, right: 14 }],
            texts: [
                { at: a => [a.left + 40, a.bottom - 23], segs: [
                    { text: 'Max Smoothing Residual: _-1.740__2.856__0.491  Sigma= 0.666ns', font: BOLD(21) }
                ] }
            ]
        }, {
            x: axis({ min: 61219, max: 61251, values: mjdTicks, labels: mjdLabels, fontSize: 25, padding: 21,
                      height: 100, title: 'Modified Julian Date', titlePadding: { top: 0, bottom: 18 } }),
            y: axis({ min: -2.245, max: 3.34, values: residTicks, labels: residLabels, fontSize: 25, padding: 27,
                      width: 162, title: 'residuals (ns)', titlePadding: { top: 46, bottom: 0 } })
        }),
        plugins: [framePlugin]
    });
}

function buildDeviationChart(cfg) {
    const points = logTau.map((x, i) => ({ x, y: cfg.values[i] }));
    const spans = spanLogTau.map(x => ({ x, y: cfg.floor }));
    const center = (a) => (a.top + a.bottom) / 2;
    return new Chart(document.getElementById(cfg.canvas), {
        type: 'scatter',
        data: {
            datasets: [{
                label: cfg.name,
                data: points,
                pointStyle: 'circle',
                pointRadius: 6,
                backgroundColor: '#000',
                borderWidth: 0,
                clip: false,
                notes: cfg.notes,
                noteFont: NOTE_FONT(cfg.noteSize),
                noteLift: cfg.noteLift
            }, {
                label: 'spans',
                data: spans,
                pointStyle: 'circle',
                pointRadius: 5,
                backgroundColor: '#000',
                borderWidth: 0,
                clip: 0,
                notes: spanNames,
                noteFont: NOTE_FONT(cfg.noteSize),
                noteLift: cfg.noteLift
            }]
        },
        options: baseOptions({ top: 60, right: cfg.right, left: 0, bottom: 0 }, {
            xTicks: [
                { values: [3.5, 4.5, 5.5], top: 6, bottom: 6 },
                { values: tauTicks, top: 13, bottom: 11 }
            ],
            yTicks: [
                { values: cfg.minorY, left: 7, right: 7 },
                { values: cfg.ticks, left: 13, right: 14 }
            ],
            texts: cfg.texts.concat([{
                rotate: true,
                align: 'center',
                at: a => [a.left - 85, center(a)],
                segs: cfg.ySegs
            }])
        }, {
            x: axis({ min: cfg.xMin, max: 6, values: tauTicks, labels: tauLabels, fontSize: 26, padding: 21,
                      height: 100, title: 'Averaging time, log(\u03c4) (s)', titlePadding: { top: 0, bottom: 18 } }),
            y: axis({ min: cfg.yMin, max: cfg.yMax, values: cfg.ticks, labels: cfg.labels, fontSize: 26,
                      padding: 27, width: cfg.axisWidth })
        }),
        plugins: [framePlugin, notesPlugin]
    });
}

buildPhaseChart();
buildResidualChart();

buildDeviationChart({
    canvas: 'mdev-chart',
    name: 'MDEV',
    values: modAdev,
    notes: modAdevNotes,
    noteSize: 19,
    noteLift: 14,
    floor: -16.5,
    xMin: 3,
    yMin: -16.5,
    yMax: -10.5,
    ticks: mdevTicks,
    labels: mdevLabels,
    minorY: [-10.5, -11.5, -12.5, -13.5, -14.5, -15.5, -16.5],
    axisWidth: 169,
    right: 26,
    texts: [{ at: a => [a.left + 46, a.top + 30], segs: [{ text: '\u03c4 = 1031s', font: NOTE_FONT(16) }] }],
    ySegs: [
        { text: 'Modified Allan Deviation (10', font: BOLD(25) },
        { text: '-15', font: BOLD(16), dy: -11 },
        { text: ')', font: BOLD(25) }
    ]
});

buildDeviationChart({
    canvas: 'tdev-chart',
    name: 'TDEV',
    values: timeDev,
    notes: timeDevNotes,
    noteSize: 16,
    noteLift: 24,
    floor: -11,
    xMin: 2.75,
    yMin: -11,
    yMax: -8.5,
    ticks: tdevTicks,
    labels: tdevLabels,
    minorY: [-8.5, -9.5, -10.5],
    axisWidth: 119,
    right: 95,
    texts: [],
    ySegs: [
        { text: 'Time deviation (10', font: BOLD(25) },
        { text: '-10', font: BOLD(16), dy: -11 },
        { text: ' s)', font: BOLD(25) }
    ]
});
</script>
</body>
</html>
